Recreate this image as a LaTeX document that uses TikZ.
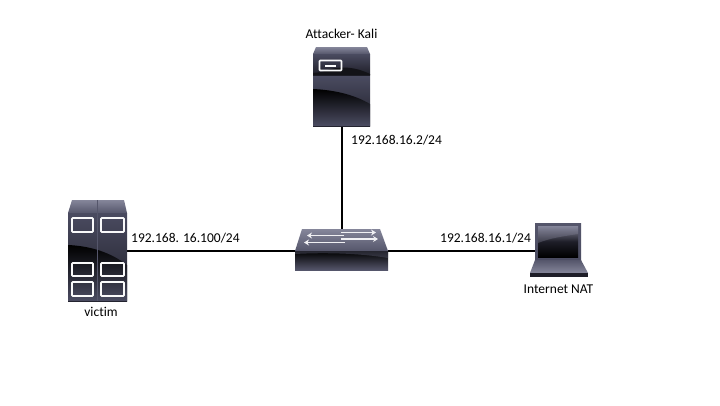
\documentclass[tikz,border=0pt]{standalone}
\usepackage{fontspec}
\setmainfont[Ligatures=NoCommon]{Carlito}
\usetikzlibrary{arrows.meta}
\definecolor{lidlo}{HTML}{55566B}
\definecolor{lidhi}{HTML}{85869A}
\definecolor{bodyhi}{HTML}{4A4B60}
\definecolor{bodymid}{HTML}{1E1E28}
\definecolor{bodylo}{HTML}{4B4C62}
\tikzset{
  anchorbox/.style={inner sep=0pt,outer sep=0pt,minimum width=#1},
  label text/.style={inner sep=0pt,font=\fontsize{13.5}{15}\selectfont,text=black},
  link/.style={draw=black,line width=2pt},
  lidflip/.style={top color=lidhi,bottom color=lidlo,draw=none},
  upper/.style={top color=bodyhi,bottom color=bodymid,draw=none},
  gloss/.style={top color=black,bottom color=bodylo,draw=none},
  panel/.style={draw=white!95!lidhi,line width=1.6pt,rounded corners=0.8pt,fill=none},
  arrowline/.style={draw=white!88!lidhi,line width=1.6pt,-{Stealth[length=5pt,width=6pt]}},
}
\begin{document}
\begin{tikzpicture}[x=1pt,y=-1pt]
\useasboundingbox (0,0) rectangle (720,405);
\fill[white] (0,0) rectangle (720,405);
% anchor nodes of devices
\node[anchorbox=57pt,minimum height=79pt] (attacker) at (341.5,86.5) {};
\node[anchorbox=59pt,minimum height=101pt] (victim) at (97.5,251) {};
\node[anchorbox=93pt,minimum height=44pt] (switch) at (341.5,251) {};
\node[anchorbox=46pt,minimum height=54pt] (laptop) at (558,251) {};
% links
\draw[link] (attacker.south) -- (switch.north);
\draw[link] (victim.east) -- (switch.west);
\draw[link] (switch.east) -- (laptop.west);
% attacker server
\shade[lidflip] (316,47) -- (367,47) -- (370,54) -- (313,54) -- cycle;
\shade[upper] (313,54) rectangle (370,75);
\fill[black!75!bodyhi] (322,72) .. controls (340,64) and (358,68) .. (370,74) -- (370,75) -- (313,75) -- (313,73) -- cycle;
\shade[upper] (313,76) rectangle (370,126);
\shade[gloss] (313,89) .. controls (335,90) and (355,95) .. (370,104) -- (370,126) -- (313,126) -- cycle;
\draw[panel] (319.5,60.5) rectangle (341.5,70.5);
\fill[white] (325,64.5) rectangle (336,66.5);
% victim server
\shade[lidflip] (72,200) -- (124,200) -- (127,213) -- (68,213) -- cycle;
\shade[upper] (68,213) rectangle (127,301);
\shade[gloss] (68,245) .. controls (90,246) and (110,252) .. (127,265) -- (127,301) -- (68,301) -- cycle;
\draw[lidlo,line width=0.8pt] (97,200) -- (97,301);
\foreach \xa/\xb in {72/93,101/124}{
  \foreach \ya/\yb in {218/232,263/276,282/296}{
    \draw[panel] (\xa,\ya) rectangle (\xb,\yb);
  }
}
% switch
\shade[lidflip] (302,229) -- (380,229) -- (388,251) -- (295,251) -- cycle;
\shade[top color=black,bottom color=lidlo] (295,251) rectangle (388,270);
\fill[lidlo,opacity=.45] (295,251) -- (388,251) -- (388,258) .. controls (365,254) and (330,252) .. (295,254) -- cycle;
\draw[arrowline] (341,232.5) -- (376,232.5);
\draw[arrowline] (344,235.5) -- (307,235.5);
\draw[arrowline] (341,239) -- (378,239);
\draw[arrowline] (345,242.5) -- (304,242.5);
% laptop
\shade[top color=lidlo,bottom color=bodyhi] (535,223) rectangle (581,260);
\shade[top color=lidhi,bottom color=black,middle color=bodymid] (538,226) rectangle (578,257);
\fill[lidhi,opacity=.35] (538,226) -- (578,226) -- (578,234) .. controls (565,236) and (550,238) .. (538,243) -- cycle;
\shade[top color=lidlo,bottom color=lidhi] (535,260) -- (581,260) -- (588,273) -- (530,273) -- cycle;
\fill[bodymid] (530,273) rectangle (588,277);
% texts
\node[label text] (t1) at (341.5,33.5) {Attacker- Kali};
\node[label text,anchor=west] (t2) at (351,140) {192.168.16.2/24};
\node[label text,anchor=west] (t3) at (131,238) {192.168. 16.100/24};
\node[label text,anchor=west] (t4) at (440,238) {192.168.16.1/24};
\node[label text] (t5) at (101,311.5) {victim};
\node[label text] (t6) at (558.5,289.5) {Internet NAT};
\end{tikzpicture}
\end{document}
